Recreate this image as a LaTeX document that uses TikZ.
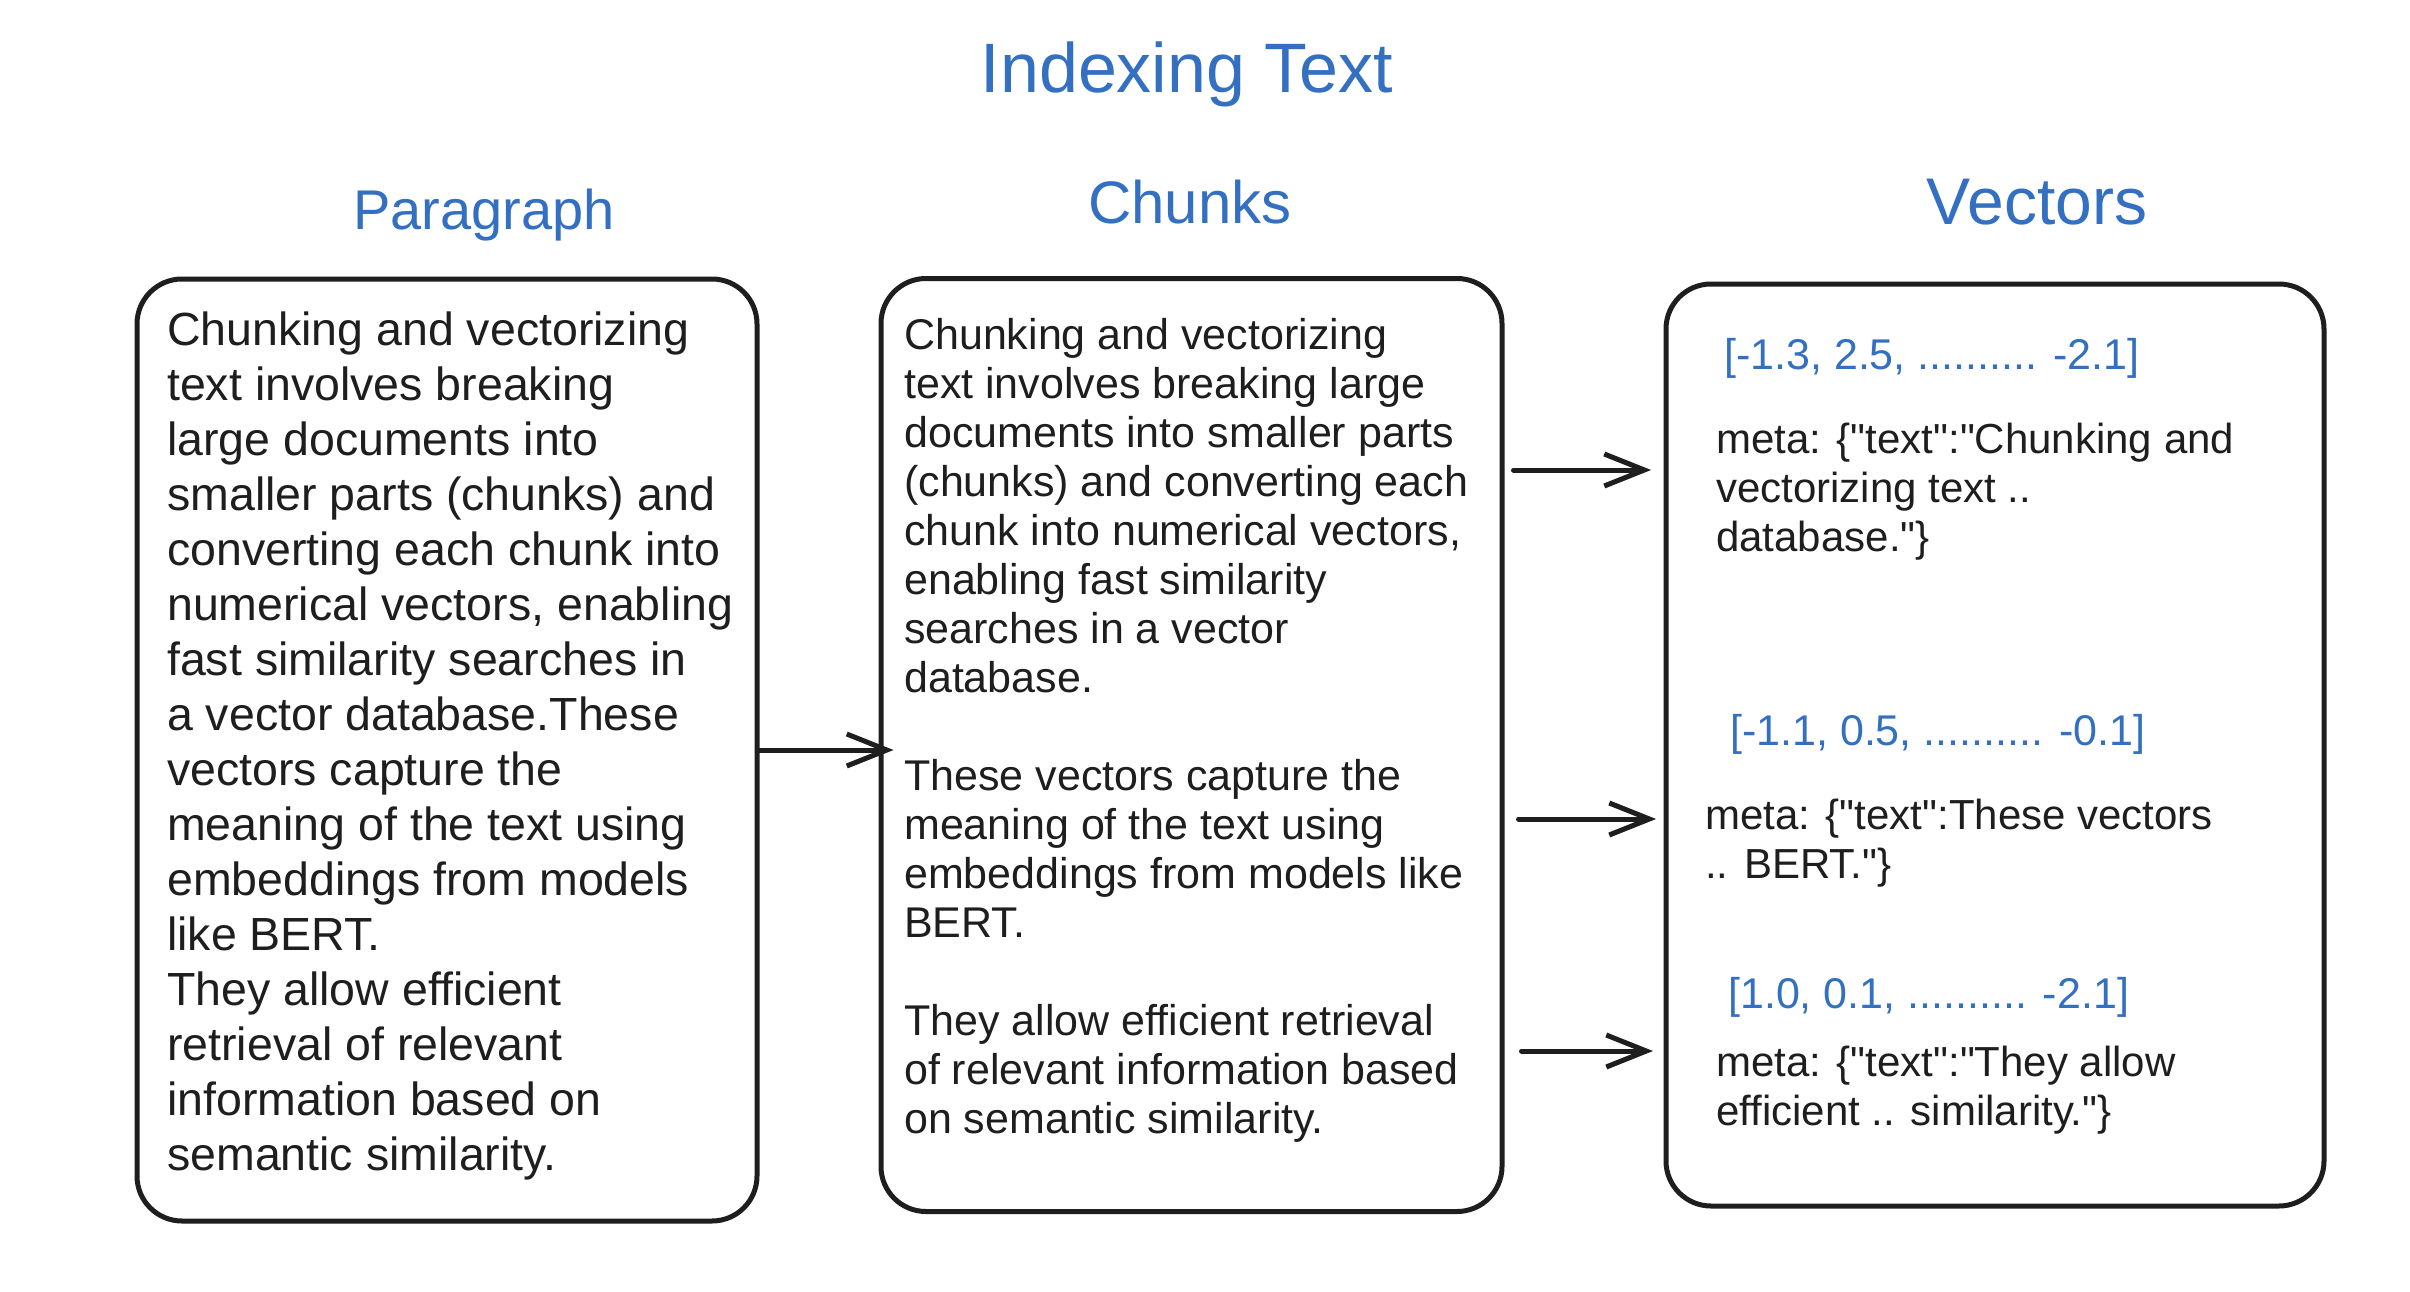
\documentclass[tikz,border=0pt]{standalone}
\usepackage{fontspec}
\setmainfont{Liberation Sans}[Ligatures=TeXOff]
\usetikzlibrary{arrows.meta,positioning}
\definecolor{inkblue}{HTML}{3470C2}
\definecolor{inkblack}{HTML}{1E1E1E}

\begin{document}
\begin{tikzpicture}[x = 1pt, y = -1pt, every node/.style={inner sep=0pt},
  heading/.style={anchor=base,text=inkblue},
  panel/.style={draw=inkblack,line width=5pt,rounded corners=45pt},
  bodytext/.style={anchor=west,align=left,text=inkblack},
  vectext/.style={anchor=west,text=inkblue,font=\fontsize{43}{49}\selectfont},
  metatext/.style={anchor=west,align=left,text=inkblack,font=\fontsize{42}{49}\selectfont},
  link/.style={->,draw=inkblack,line width=5pt,line cap=round},
  >={Straight Barb[length=40pt,width=32pt]}]
\path[use as bounding box,fill=white] (0,0) rectangle (2410,1292);
\node[heading,font=\fontsize{70}{80}\selectfont] (title) at (1187,93) {Indexing Text};
\node[heading,font=\fontsize{56}{66}\selectfont] (parahead) at (484,230) {Paragraph};
\node[heading,font=\fontsize{60}{70}\selectfont] (chunkhead) at (1190,224) {Chunks};
\node[heading,font=\fontsize{66}{76}\selectfont] (vechead) at (2037,225) {Vectors};
\node[panel,minimum width=620pt,minimum height=942pt] (para) at (447,750) {};
\node[panel,minimum width=621pt,minimum height=933pt] (chunks) at (1191.5,745) {};
\node[panel,minimum width=658pt,minimum height=922pt] (vectors) at (1995,745) {};
\node[bodytext,font=\fontsize{46.5}{55}\selectfont] (paratext) at (167,746) {Chunking and vectorizing\\text involves breaking\\large documents into\\smaller parts (chunks) and\\converting each chunk into\\numerical vectors, enabling\\fast similarity searches in\\a vector database.These\\vectors capture the\\meaning of the text using\\embeddings from models\\like BERT.\\They allow efficient\\retrieval of relevant\\information based on\\semantic similarity.};
\node[bodytext,font=\fontsize{43}{49}\selectfont] (chunktext) at (904,730) {Chunking and vectorizing\\text involves breaking large\\documents into smaller parts\\(chunks) and converting each\\chunk into numerical vectors,\\enabling fast similarity\\searches in a vector\\database.\\[49pt]These vectors capture the\\meaning of the text using\\embeddings from models like\\BERT.\\[49pt]They allow efficient retrieval\\of relevant information based\\on semantic similarity.};
\node[vectext] (v1) at (1724,358) {[-1.3, 2.5, .......... -2.1]};
\node[metatext] (m1) at (1716,492) {meta: \{"text":"Chunking and\\vectorizing text ..\\database."\}};
\node[vectext] (v2) at (1730,734) {[-1.1, 0.5, .......... -0.1]};
\node[metatext] (m2) at (1705,843) {meta: \{"text":These vectors\\.. BERT."\}};
\node[vectext] (v3) at (1728,997) {[1.0, 0.1, .......... -2.1]};
\node[metatext] (m3) at (1716,1090) {meta: \{"text":"They allow\\efficient .. similarity."\}};
\coordinate (in1) at (1651,470);
\coordinate (in2) at (1656,819);
\coordinate (in3) at (1653,1051);
\draw[link] (para.east) -- ([xshift=15pt]para.east -| chunks.west);
\draw[link] ([xshift=9pt]chunks.east |- in1) -- (in1);
\draw[link] ([xshift=14pt]chunks.east |- in2) -- (in2);
\draw[link] ([xshift=17pt]chunks.east |- in3) -- (in3);
\end{tikzpicture}
\end{document}
